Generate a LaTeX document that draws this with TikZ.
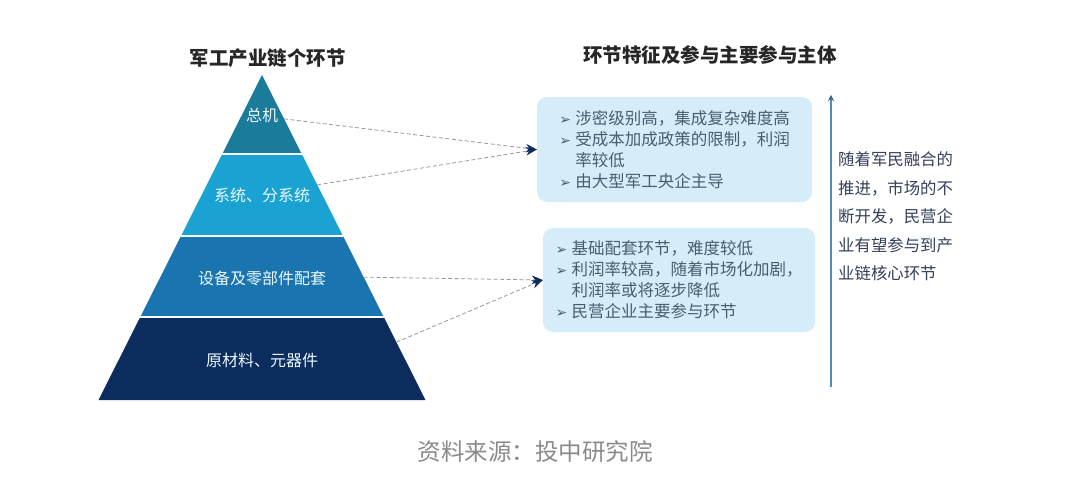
\documentclass[tikz,border=0pt]{standalone}
\usepackage{fontspec}
\setmainfont{Noto Sans CJK SC}
\newfontfamily\flechas{DejaVu Sans}
\usetikzlibrary{arrows.meta, positioning, calc}
\definecolor{cima}{HTML}{1B7B9B}
\definecolor{celeste}{HTML}{1AA2D2}
\definecolor{medio}{HTML}{1A74AF}
\definecolor{marino}{HTML}{0C2C5E}
\definecolor{cajafondo}{HTML}{D5EDF8}
\definecolor{cajatexto}{HTML}{4A5D6F}
\definecolor{ejeazul}{HTML}{4E8DB8}
\definecolor{notatexto}{HTML}{34405A}
\definecolor{fuente}{HTML}{8A8A8A}
\newcommand{\vineta}{\makebox[16pt][l]{\flechas\fontsize{14}{14}\selectfont ➢}}
\newcommand{\sangria}{\makebox[16pt]{}}
\tikzset{
  nivel/.style={text=white!92!cyan, font=\fontsize{16}{18}\selectfont},
  titulo/.style={text=black!85, font=\fontsize{19.5}{22}\selectfont\bfseries},
  caja/.style={rectangle, rounded corners=10pt, fill=cajafondo, text=cajatexto,
    align=left, inner sep=0pt, font=\fontsize{16.5}{21}\selectfont},
  enlace/.style={gray!80, line width=0.8pt, dash pattern=on 4pt off 2.5pt,
    -{Stealth[length=11pt, width=8.5pt, color=marino]}},
  eje/.style={ejeazul, line width=2.2pt, -{Stealth[length=6pt, width=6pt, color=ejeazul!70!black]}}
}

\begin{document}
\begin{tikzpicture}[x=1pt, y=-1pt]
  \useasboundingbox[fill=white] (0,0) rectangle (1074,488);

  % --- Piramide ---
  \coordinate (vertice) at (262,75);
  \coordinate (baseizq) at (98.5,400);
  \coordinate (baseder) at (425.5,400);
  \foreach \nom/\t in {a/0.243, b/0.495, c/0.745} {
    \coordinate (izq\nom) at ($(vertice)!\t!(baseizq)$);
    \coordinate (der\nom) at ($(vertice)!\t!(baseder)$);
  }
  \fill[cima] (vertice) -- (dera) -- (izqa) -- cycle;
  \fill[celeste] (izqa) -- (dera) -- (derb) -- (izqb) -- cycle;
  \fill[medio] (izqb) -- (derb) -- (derc) -- (izqc) -- cycle;
  \fill[marino] (izqc) -- (derc) -- (baseder) -- (baseizq) -- cycle;
  \foreach \nom in {a, b, c}
    \draw[white, line width=2pt] (izq\nom) -- (der\nom);

  \node[nivel] (zongji) at (262,115) {总机};
  \node[nivel] (xitong) at (262,195) {系统、分系统};
  \node[nivel] (shebei) at (262,278) {设备及零部件配套};
  \node[nivel] (yuancailiao) at (262,360) {原材料、元器件};

  % --- Titulos ---
  \node[titulo] (titizq) at (267.5,58) {军工产业链个环节};
  \node[titulo] (titder) at (710,55) {环节特征及参与主要参与主体};

  % --- Cajas ---
  \node[caja, minimum width=275pt, minimum height=105pt] (rasgos1) at (674.5,149.5)
    {\vineta 涉密级别高，集成复杂难度高\\
     \vineta 受成本加成政策的限制，利润\\
     \sangria 率较低\\
     \vineta 由大型军工央企主导};
  \node[caja, minimum width=272pt, minimum height=104pt] (rasgos2) at (679,280)
    {\vineta 基础配套环节，难度较低\\
     \vineta 利润率较高，随着市场化加剧，\\
     \sangria 利润率或将逐步降低\\
     \vineta 民营企业主要参与环节};

  % --- Flechas ---
  \coordinate (salida1) at ($(vertice)!0.135!(baseder)$);
  \coordinate (salida2) at ($(vertice)!0.338!(baseder)$);
  \coordinate (salida3) at ($(vertice)!0.622!(baseder)$);
  \coordinate (salida4) at ($(vertice)!0.822!(baseder)$);
  \draw[enlace] (salida1) -- (rasgos1.west);
  \draw[enlace] (salida2) -- (rasgos1.west);
  \draw[enlace] (salida3) -- (rasgos2.west);
  \draw[enlace] (salida4) -- (rasgos2.west);

  % --- Eje y nota ---
  \coordinate (ejeabajo) at (831,387);
  \coordinate (ejearriba) at (831,95);
  \draw[eje] (ejeabajo) -- (ejearriba);
  \node[anchor=west, align=left, text=notatexto, inner sep=0pt,
    font=\fontsize{16.4}{28.5}\selectfont] (nota) at (838,216.5)
    {随着军民融合的\\推进，市场的不\\断开发，民营企\\业有望参与到产\\业链核心环节};

  % --- Fuente ---
  \node[text=fuente, font=\fontsize{23.5}{26}\selectfont] (fuente) at (535,452)
    {资料来源：投中研究院};

\end{tikzpicture}
\end{document}
